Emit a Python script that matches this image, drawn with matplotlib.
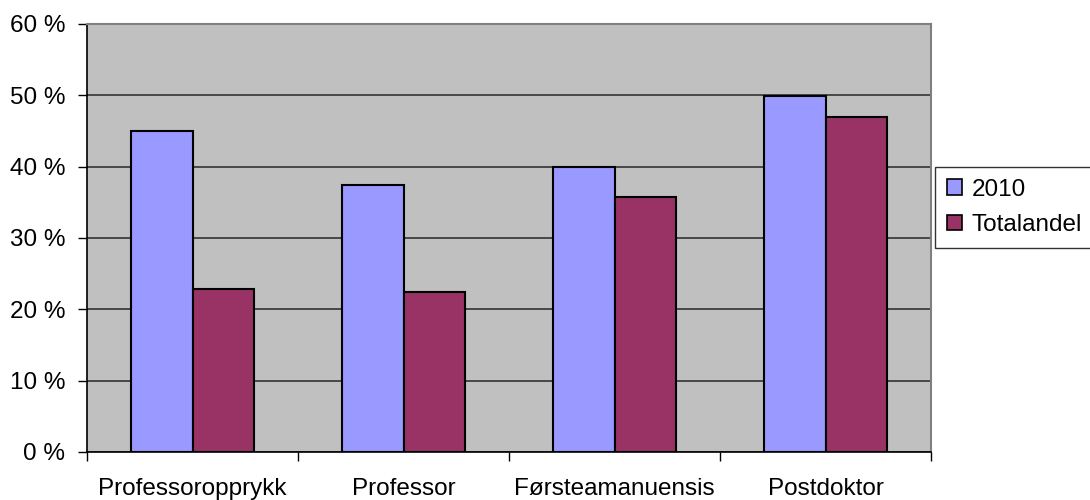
import matplotlib
matplotlib.use("Agg")
import matplotlib.pyplot as plt
import numpy as np
from matplotlib.patches import Patch
from matplotlib.ticker import FuncFormatter

categories = ["Professoropprykk", "Professor", "Førsteamanuensis", "Postdoktor"]
series_names = ["2010", "Totalandel"]
values_2010 = [45.0, 37.4, 40.0, 49.9]
values_total = [22.9, 22.4, 35.8, 47.0]
y_ticks = [0, 10, 20, 30, 40, 50, 60]

color_2010 = "#9999FF"
color_total = "#993366"
plot_bg = "#C0C0C0"

plt.rcParams["font.family"] = ["Liberation Sans", "DejaVu Sans"]
FS = 17.5

fig = plt.figure(figsize=(10.9, 5.0), dpi=100)
ax = fig.add_axes([87 / 1090, 48 / 500, (931 - 87) / 1090, (452 - 24) / 500])
ax.set_facecolor(plot_bg)

x = np.arange(len(categories))
w = 0.29
ax.bar(x - w / 2, values_2010, width=w, color=color_2010, edgecolor="black",
       linewidth=1.5, zorder=3)
ax.bar(x + w / 2, values_total, width=w, color=color_total, edgecolor="black",
       linewidth=1.5, zorder=3)

ax.set_xlim(-0.5, len(categories) - 0.5)
ax.set_ylim(0, 60)
ax.set_yticks(y_ticks)
ax.yaxis.set_major_formatter(FuncFormatter(lambda v, p: f"{int(v)} %"))
ax.set_xticks(np.arange(-0.5, len(categories), 1.0))
ax.set_xticklabels([])
ax.set_xticks(x, minor=True)
ax.set_xticklabels(categories, minor=True, fontsize=FS)
ax.tick_params(axis="x", which="minor", length=0, pad=19)
ax.tick_params(axis="x", which="major", direction="out", length=6.5, width=1, color="black")
ax.tick_params(axis="y", direction="out", length=6.5, width=1, labelsize=FS, pad=9)

ax.grid(axis="y", color="#333333", linewidth=1.2, zorder=1)
ax.set_axisbelow(True)

for s in ["top", "right"]:
    ax.spines[s].set_color("#808080")
    ax.spines[s].set_linewidth(1.5)
ax.spines["left"].set_color("black")
ax.spines["bottom"].set_color("black")
ax.spines["left"].set_linewidth(1.2)
ax.spines["bottom"].set_linewidth(1.2)

handles = [Patch(facecolor=color_2010, edgecolor="black", linewidth=1.2),
           Patch(facecolor=color_total, edgecolor="black", linewidth=1.2)]
leg = fig.legend(handles, series_names, loc="upper left",
                 bbox_to_anchor=(935 / 1090, 1 - 166.5 / 500),
                 borderaxespad=0, fontsize=FS, frameon=True, fancybox=False,
                 handlelength=0.6, handleheight=0.6, handletextpad=0.4,
                 labelspacing=0.55, borderpad=0.5)
leg.get_frame().set_edgecolor("black")
leg.get_frame().set_linewidth(1.0)

fig.savefig("out.png", dpi=100)
